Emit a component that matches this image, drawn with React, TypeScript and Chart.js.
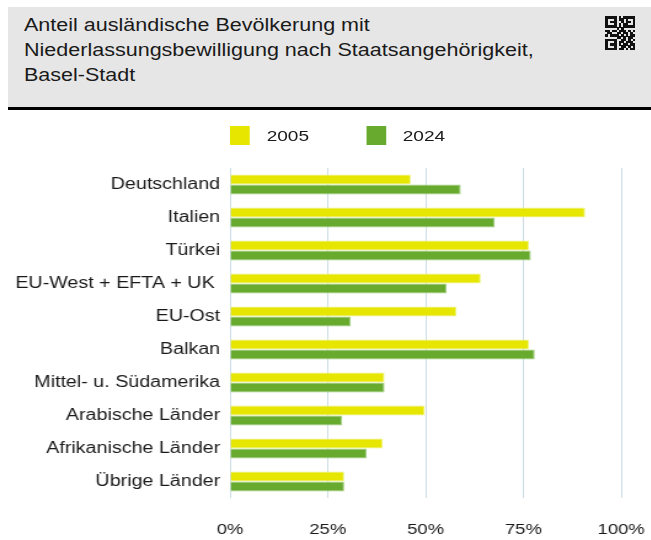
import React, { useEffect, useRef } from "react";
import { Chart, registerables } from "chart.js";

Chart.register(...registerables);

const categories = [
  "Deutschland",
  "Italien",
  "Türkei",
  "EU-West + EFTA + UK ",
  "EU-Ost",
  "Balkan",
  "Mittel- u. Südamerika",
  "Arabische Länder",
  "Afrikanische Länder",
  "Übrige Länder",
];
const values2005 = [46.2, 90.8, 76.4, 64.1, 57.9, 76.4, 39.5, 49.8, 39.0, 29.2];
const values2024 = [59.0, 67.7, 76.9, 55.4, 30.9, 77.9, 39.5, 28.7, 34.9, 29.2];
const seriesLabels = ["2005", "2024"];
const xTickValues = [0, 25, 50, 75, 100];
const titleLines = [
  "Anteil ausländische Bevölkerung mit",
  "Niederlassungsbewilligung nach Staatsangehörigkeit,",
  "Basel-Stadt",
];

const COLORS = ["#e6e600", "#67aa2e"];
const BORDERS = ["#eef27a", "#a2cd80"];
const FONT = '"Liberation Sans", Arial, Helvetica, sans-serif';
const S = 1.23; // horizontal stretch of the original rendering
const W = Math.round(651 / S);
const H = 430;

const QR_ROWS = [
  "1111101011111",
  "1000101101001",
  "1011100101101",
  "1000101011001",
  "1111101011111",
  "0000010100000",
  "1101101110101",
  "0110011011010",
  "1011110101011",
  "0000011010110",
  "1111100110101",
  "1000101101110",
  "1011101011011",
  "1000100110101",
  "1111101101011",
];

function QR() {
  const cellW = 30 / 13;
  const cellH = 34 / 15;
  const cells: React.ReactNode[] = [];
  QR_ROWS.forEach((row, r) =>
    row.split("").forEach((c, k) => {
      if (c === "1")
        cells.push(
          <div
            key={r + "-" + k}
            style={{
              position: "absolute",
              left: k * cellW,
              top: r * cellH,
              width: cellW + 0.3,
              height: cellH + 0.3,
              background: "#111",
            }}
          />
        );
    })
  );
  return (
    <div style={{ position: "absolute", left: 605, top: 16, width: 30, height: 34 }}>{cells}</div>
  );
}

export default function App() {
  const ref = useRef<HTMLCanvasElement | null>(null);

  useEffect(() => {
    if (!ref.current) return;
    const chart = new Chart(ref.current, {
      type: "bar",
      data: {
        labels: categories,
        datasets: [
          {
            label: seriesLabels[0],
            data: values2005,
            backgroundColor: COLORS[0],
            borderColor: BORDERS[0],
            borderWidth: 1,
            barPercentage: 1,
            categoryPercentage: 0.6,
          },
          {
            label: seriesLabels[1],
            data: values2024,
            backgroundColor: COLORS[1],
            borderColor: BORDERS[1],
            borderWidth: 1,
            barPercentage: 1,
            categoryPercentage: 0.6,
          },
        ],
      },
      options: {
        indexAxis: "y",
        animation: false,
        responsive: false,
        maintainAspectRatio: false,
        layout: { padding: { top: 58, right: 24, left: 0, bottom: 0 } },
        plugins: {
          legend: { display: false },
          tooltip: { enabled: false },
        },
        scales: {
          x: {
            min: 0,
            max: 100,
            afterBuildTicks: (axis: any) => {
              axis.ticks = xTickValues.map((v) => ({ value: v }));
            },
            afterFit: (axis: any) => {
              axis.height = 42;
              axis.paddingLeft = 0;
              axis.paddingRight = 0;
            },
            grid: { color: "#cddde6", lineWidth: 1, drawTicks: false },
            border: { display: false },
            ticks: {
              padding: 23,
              color: "#1a1a1a",
              font: { family: FONT, size: 15 },
              callback: (v: any) => v + "%",
              maxRotation: 0,
            },
          },
          y: {
            afterFit: (axis: any) => {
              axis.width = 187;
            },
            grid: { display: false, drawTicks: false },
            border: { display: false },
            ticks: {
              padding: 8,
              color: "#1a1a1a",
              font: { family: FONT, size: 16 },
            },
          },
        },
      },
    });
    return () => chart.destroy();
  }, []);

  const legendItems = [
    { box: 187, text: 216.8 },
    { box: 298.1, text: 327.4 },
  ];

  return (
    <div
      style={{
        position: "absolute",
        left: 0,
        top: 0,
        width: 651,
        height: 540,
        overflow: "hidden",
        background: "#ffffff",
        fontFamily: FONT,
      }}
    >
      <div
        style={{
          position: "absolute",
          left: 8,
          top: 7,
          width: 643,
          height: 100,
          background: "#e6e6e6",
          borderBottom: "3px solid #000",
        }}
      />
      <div
        style={{
          position: "absolute",
          left: 24,
          top: 13.4,
          transform: `scaleX(${S})`,
          transformOrigin: "0 0",
          fontSize: 17.5,
          lineHeight: "25px",
          color: "#1a1a1a",
          whiteSpace: "nowrap",
        }}
      >
        {titleLines.map((t, i) => (
          <div key={i}>{t}</div>
        ))}
      </div>
      <QR />
      <div
        style={{
          position: "absolute",
          left: 0,
          top: 110,
          width: W,
          height: H,
          transform: `scaleX(${S})`,
          transformOrigin: "0 0",
        }}
      >
        {seriesLabels.map((lab, i) => (
          <React.Fragment key={lab}>
            <div
              style={{
                position: "absolute",
                left: legendItems[i].box,
                top: 16,
                width: 16,
                height: 19,
                background: COLORS[i],
              }}
            />
            <div
              style={{
                position: "absolute",
                left: legendItems[i].text,
                top: 16,
                height: 19,
                lineHeight: "19px",
                fontSize: 15.5,
                color: "#1a1a1a",
                whiteSpace: "nowrap",
              }}
            >
              {lab}
            </div>
          </React.Fragment>
        ))}
        <canvas ref={ref} width={W} height={H} style={{ display: "block" }} />
      </div>
    </div>
  );
}
